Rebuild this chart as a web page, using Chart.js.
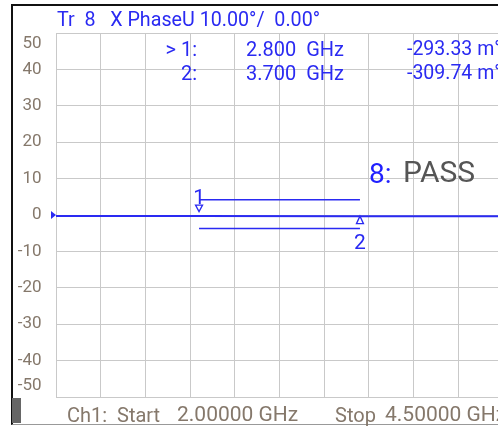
<!DOCTYPE html>
<html lang="en">
<head>
<meta charset="UTF-8">
<title>Tr 8 X PhaseU</title>
<script src="https://cdn.jsdelivr.net/npm/chart.js@4.4.1/dist/chart.umd.min.js"></script>
<style>
  body { margin: 0; background: #fff; overflow: hidden; }
  #wrap { position: relative; width: 498px; height: 427px; overflow: hidden; font-family: Roboto, sans-serif; }
  #wrap canvas { position: absolute; left: 0; top: 0; }
  .txt { position: absolute; white-space: pre; font-size: 20px; line-height: 20px; color: #2a2af2; }
  .gray { color: #85786b; }
  .big { font-size: 21px; line-height: 21px; }
  #frame { position: absolute; left: 11px; top: 4px; width: 600px; height: 418px;
           border-top: 2px solid #111; border-left: 2px solid #111; border-bottom: 1px solid #999; }
  #block { position: absolute; left: 12px; top: 398px; width: 9px; height: 25px; background: #666; }
</style>
</head>
<body>
<div id="wrap">
  <canvas id="trace" width="520" height="427"></canvas>
  <div id="frame"></div>
  <div id="block"></div>

  <!-- header -->
  <div class="txt" style="left:57px; top:10px; font-size:19.7px;">Tr  8   X PhaseU 10.00°/  0.00°</div>

  <!-- marker table -->
  <div class="txt" style="right:301px; top:39px;">&gt; 1:</div>
  <div class="txt" style="left:246px; top:39px;">2.800  GHz</div>
  <div class="txt" style="left:407px; top:39px; font-size:19.5px;">-293.33 m°</div>
  <div class="txt" style="right:301px; top:63px;">2:</div>
  <div class="txt" style="left:246px; top:63px;">3.700  GHz</div>
  <div class="txt" style="left:407px; top:63px; font-size:19.5px;">-309.74 m°</div>

  <!-- limit test result -->
  <div class="txt" style="left:369px; top:160px; font-size:28px; line-height:28px; color:#2020ff;">8:</div>
  <div class="txt" style="left:403px; top:157px; font-size:30px; line-height:30px; color:#555;">PASS</div>

  <!-- footer -->
  <div class="txt gray" style="left:67px; top:405px;">Ch1:</div>
  <div class="txt gray" style="left:117px; top:405px;">Start</div>
  <div class="txt gray big" style="left:177px; top:404px;">2.00000 GHz</div>
  <div class="txt gray" style="left:335px; top:405px;">Stop</div>
  <div class="txt gray big" style="left:385px; top:404px;">4.50000 GHz</div>
</div>

<script>
// sweep settings
const xStart = 2.0;   // GHz
const xStop = 4.5;    // GHz
const xStep = 0.25;

// y axis (degrees, 10°/div, ref 0°)
const yTicks = [50, 40, 30, 20, 10, 0, -10, -20, -30, -40, -50];
const refValue = 0;

// trace 8 (phase, degrees)
const freqGHz = [2.0, 2.8, 3.7, 4.5];
const phaseDeg = [-0.29, -0.29333, -0.30974, -0.31];

// markers
const markerNames = ['1', '2'];
const markerFreq = [2.8, 3.7];
const markerPhase = [-0.29333, -0.30974];

// horizontal lines between the markers
const spanFreq = [2.8, 3.7];
const upperLine = [4.2, 4.2];
const lowerLine = [-3.7, -3.7];

const blue = '#2a2af2';
const gridColor = '#c9c9c9';

function pts(xs, ys) {
    return xs.map((x, i) => ({ x: x, y: ys[i] }));
}

// y labels, markers and reference arrow
const overlay = {
    id: 'overlay',
    afterDraw(chart) {
        const ctx = chart.ctx;
        const xs = chart.scales.x, ys = chart.scales.y;
        const area = chart.chartArea;
        ctx.save();

        // y tick labels, the end ones pushed inside the grid
        ctx.font = '17px Roboto';
        ctx.fillStyle = '#85786b';
        ctx.textAlign = 'right';
        ctx.textBaseline = 'middle';
        yTicks.forEach(v => {
            let py = ys.getPixelForValue(v);
            py = Math.min(Math.max(py, area.top + 11), area.bottom - 11.5);
            ctx.fillText(String(v), 41.5, py);
        });

        // reference position arrow
        const ry = ys.getPixelForValue(refValue);
        ctx.fillStyle = blue;
        ctx.beginPath();
        ctx.moveTo(area.left, ry);
        ctx.lineTo(area.left - 5, ry - 4);
        ctx.lineTo(area.left - 5, ry + 4);
        ctx.closePath();
        ctx.fill();

        // markers: 1 above the trace pointing down, 2 below pointing up
        ctx.font = '21px Roboto';
        ctx.textAlign = 'center';
        ctx.lineWidth = 1.3;
        ctx.strokeStyle = blue;
        markerNames.forEach((name, i) => {
            const px = xs.getPixelForValue(markerFreq[i]);
            const py = ys.getPixelForValue(markerPhase[i]);
            const up = i % 2 === 1;
            ctx.beginPath();
            if (!up) {
                ctx.moveTo(px, py - 4.5);
                ctx.lineTo(px - 3.5, py - 11);
                ctx.lineTo(px + 3.5, py - 11);
            } else {
                ctx.moveTo(px, py);
                ctx.lineTo(px - 3.5, py + 7.5);
                ctx.lineTo(px + 3.5, py + 7.5);
            }
            ctx.closePath();
            ctx.fillStyle = '#fff';
            ctx.fill();
            ctx.stroke();
            ctx.fillStyle = blue;
            ctx.textBaseline = 'alphabetic';
            ctx.fillText(name, px, up ? py + 33 : py - 12);
        });
        ctx.restore();
    }
};

new Chart(document.getElementById('trace'), {
    type: 'line',
    data: {
        datasets: [
            { data: pts(freqGHz, phaseDeg), borderColor: blue, borderWidth: 2, pointRadius: 0 },
            { data: pts(spanFreq, upperLine), borderColor: blue, borderWidth: 1.4, pointRadius: 0 },
            { data: pts(spanFreq, lowerLine), borderColor: blue, borderWidth: 1.4, pointRadius: 0 }
        ]
    },
    options: {
        responsive: false,
        animation: false,
        layout: { padding: { left: 56, top: 33, right: 17, bottom: 30 } },
        plugins: { legend: { display: false }, tooltip: { enabled: false } },
        scales: {
            x: {
                type: 'linear', min: xStart, max: xStop,
                ticks: { display: false, stepSize: xStep },
                grid: { color: gridColor, drawTicks: false },
                border: { color: gridColor }
            },
            y: {
                type: 'linear', min: yTicks[yTicks.length - 1], max: yTicks[0],
                ticks: { display: false, stepSize: 10 },
                grid: { color: gridColor, drawTicks: false },
                border: { color: gridColor }
            }
        }
    },
    plugins: [overlay]
});
</script>
</body>
</html>
